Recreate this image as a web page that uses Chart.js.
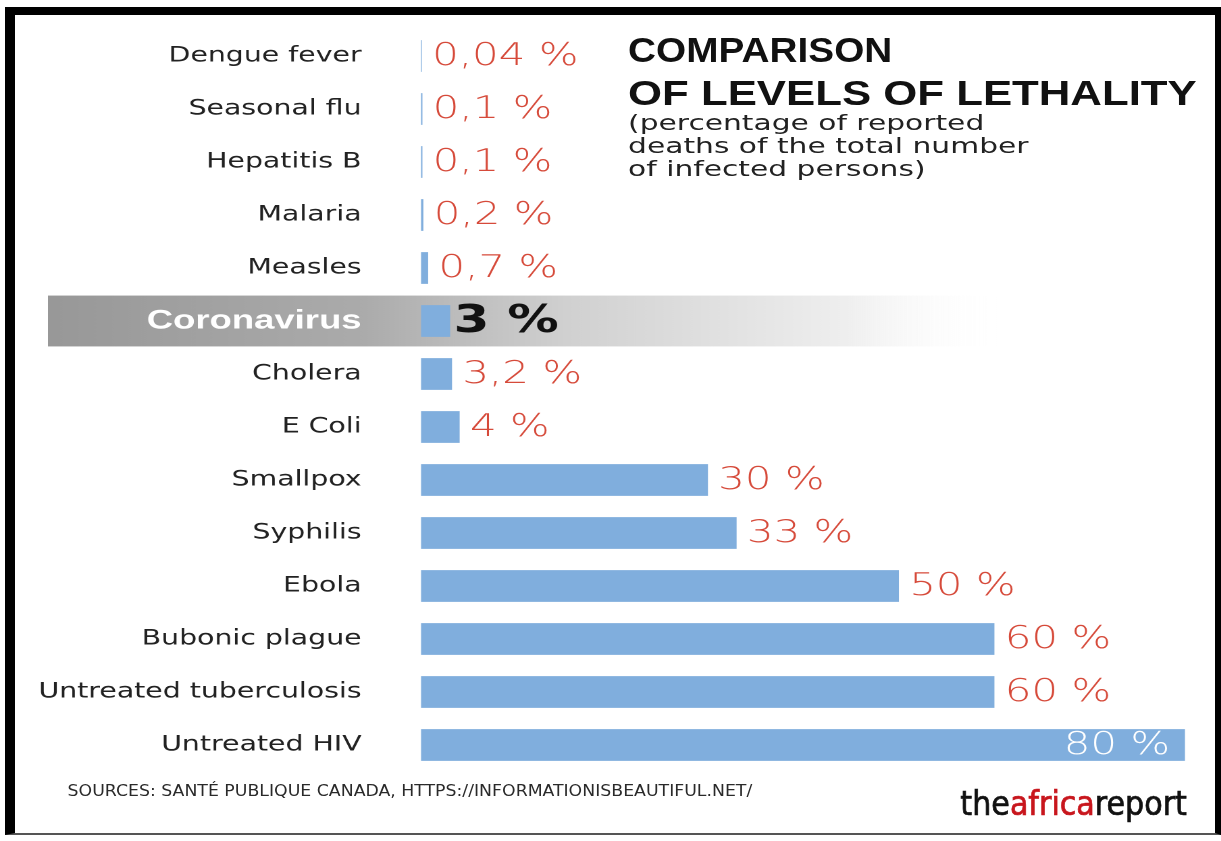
<!DOCTYPE html>
<html>
<head>
<meta charset="utf-8">
<title>Comparison of levels of lethality</title>
<script src="https://cdn.jsdelivr.net/npm/chart.js"></script>
<style>
  html, body { margin: 0; padding: 0; background: #fff; overflow: hidden; }
  body { width: 1221px; height: 841px; position: relative; }
  .frame {
    position: absolute; left: 5px; top: 7px; right: 0; bottom: 6px;
    border-top: 8px solid #000; border-left: 10px solid #000;
    border-right: 6px solid #000; border-bottom: 2px solid #555;
    box-sizing: border-box; pointer-events: none;
  }
  /* the original graphic is stretched horizontally */
  .stretch {
    position: absolute; left: 0; top: 0; width: 904px; height: 841px;
    transform-origin: 0 0; transform: scaleX(1.3507);
  }
  .txt { position: absolute; white-space: nowrap; transform-origin: 0 0; }
  .title { font: bold 35px "Liberation Sans", sans-serif; line-height: 35px; color: #111; }
  .sub { font: 22px "DejaVu Sans", sans-serif; line-height: 23px; color: #222; }
  .src { font: 15px "Liberation Sans Narrow", "DejaVu Sans Condensed", sans-serif; line-height: 15px; color: #2a2a2a; }
  .logo { font: 34px "Liberation Sans Narrow", "DejaVu Sans Condensed", sans-serif; line-height: 34px; color: #111;
          -webkit-text-stroke: 0.7px #111; }
  .logo span { color: #c8161d; -webkit-text-stroke: 0.7px #c8161d; }
</style>
</head>
<body>
<div class="stretch">
  <canvas id="chart" width="904" height="841"></canvas>
  <div class="txt title" style="left:465px; top:32px;" data-w="196">COMPARISON</div>
  <div class="txt title" style="left:465px; top:75px;" data-w="421">OF LEVELS OF LETHALITY</div>
  <div class="txt sub" style="left:465px; top:111px;">(percentage of reported<br>deaths of the total number<br>of infected persons)</div>
  <div class="txt src" style="left:50px; top:784px;" data-w="507">SOURCES: SANTÉ PUBLIQUE CANADA, HTTPS://INFORMATIONISBEAUTIFUL.NET/</div>
  <div class="txt logo" style="left:711px; top:786px;" data-w="168">the<span>africa</span>report</div>
</div>
<div class="frame"></div>

<script>
  // data
  const diseases = [
    'Dengue fever', 'Seasonal flu', 'Hepatitis B', 'Malaria', 'Measles',
    'Coronavirus', 'Cholera', 'E Coli', 'Smallpox', 'Syphilis', 'Ebola',
    'Bubonic plague', 'Untreated tuberculosis', 'Untreated HIV'
  ];
  const lethality = [0.04, 0.1, 0.1, 0.2, 0.7, 3, 3.2, 4, 30, 33, 50, 60, 60, 80];
  const highlight = 'Coronavirus';

  const RED = '#d64a3a';
  const BLUE = '#80aedd';

  // squeeze / stretch text blocks to the widths measured on the original
  document.querySelectorAll('[data-w]').forEach(function (el) {
    const target = parseFloat(el.dataset.w);
    el.style.transform = 'scaleX(' + (target / el.offsetWidth) + ')';
  });

  function fmt(v) {
    return String(v).replace('.', ',') + ' %';
  }

  // grey fading band behind the highlighted row
  const bandPlugin = {
    id: 'band',
    beforeDraw(chart) {
      const y = chart.scales.y;
      const idx = diseases.indexOf(highlight);
      const cy = y.getPixelForValue(idx);
      const h = (y.bottom - y.top) / diseases.length * 0.96;
      const x0 = 35.5, x1 = 742;
      const ctx = chart.ctx;
      const g = ctx.createLinearGradient(x0, 0, x1, 0);
      g.addColorStop(0, '#989898');
      g.addColorStop(0.33, '#ababab');
      g.addColorStop(0.54, '#d0d0d0');
      g.addColorStop(0.84, '#efefef');
      g.addColorStop(1, 'rgba(255,255,255,0)');
      ctx.save();
      ctx.fillStyle = g;
      ctx.fillRect(x0, cy - h / 2, x1 - x0, h);
      ctx.restore();
    }
  };

  // value labels next to (or inside) the bars
  const valuePlugin = {
    id: 'values',
    afterDatasetsDraw(chart) {
      const ctx = chart.ctx;
      const meta = chart.getDatasetMeta(0);
      ctx.save();
      ctx.textBaseline = 'middle';
      meta.data.forEach(function (bar, i) {
        const text = fmt(lethality[i]);
        const isHi = diseases[i] === highlight;
        ctx.font = isHi ? 'bold 38px "DejaVu Sans", sans-serif' : '200 31px "DejaVu Sans", sans-serif';
        const w = ctx.measureText(text).width;
        const x = bar.x + (isHi ? 3 : 8);
        if (x + w > chart.chartArea.right) {
          ctx.textAlign = 'right';
          ctx.fillStyle = '#ffffff';
          ctx.fillText(text, bar.x - 11, bar.y + 1);
        } else {
          ctx.textAlign = 'left';
          ctx.fillStyle = isHi ? '#111111' : RED;
          ctx.fillText(text, x, bar.y + 1);
        }
      });
      ctx.restore();
    }
  };

  const chart = new Chart(document.getElementById('chart'), {
    type: 'bar',
    data: {
      labels: diseases,
      datasets: [{
        data: lethality,
        backgroundColor: BLUE,
        borderWidth: 0,
        barThickness: 31
      }]
    },
    options: {
      indexAxis: 'y',
      responsive: false,
      animation: false,
      devicePixelRatio: 2,
      layout: { padding: { left: 0, right: 26.7, top: 29.5, bottom: 69.5 } },
      plugins: {
        legend: { display: false },
        tooltip: { enabled: false }
      },
      scales: {
        x: { display: false, min: 0, max: 80 },
        y: {
          afterFit(scale) {
            scale.width = 311.7;
            scale.paddingTop = 0;
            scale.paddingBottom = 0;
          },
          grid: { display: false, drawTicks: false },
          border: { display: false },
          ticks: {
            padding: 44,
            color: function (c) { return c.index === diseases.indexOf(highlight) ? '#ffffff' : '#222222'; },
            font: function (c) {
              return c.index === diseases.indexOf(highlight)
                ? { family: '"Liberation Sans", sans-serif', size: 27, weight: 'bold' }
                : { family: '"DejaVu Sans", sans-serif', size: 21, weight: 'normal' };
            }
          }
        }
      }
    },
    plugins: [bandPlugin, valuePlugin]
  });
</script>
</body>
</html>
